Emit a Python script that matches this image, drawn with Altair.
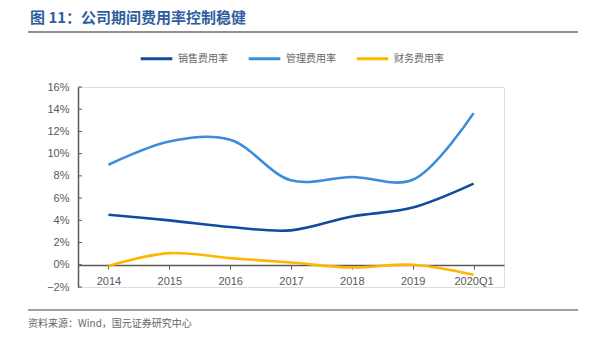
import altair as alt
import pandas as pd

categories = ["2014", "2015", "2016", "2017", "2018", "2019", "2020Q1"]
sales_rate = [4.5, 4.0, 3.4, 3.1, 4.35, 5.15, 7.3]
admin_rate = [9.0, 11.1, 11.25, 7.6, 7.9, 7.65, 13.65]
fin_rate = [-0.1, 1.05, 0.6, 0.2, -0.25, 0.0, -0.9]
series_names = ["销售费用率", "管理费用率", "财务费用率"]
series_colors = ["#0F4C9E", "#3A8DD8", "#FFB600"]
y_ticks = [-0.02, 0.0, 0.02, 0.04, 0.06, 0.08, 0.10, 0.12, 0.14, 0.16]

rows = []
for name, vals in zip(series_names, [sales_rate, admin_rate, fin_rate]):
    for c, v in zip(categories, vals):
        rows.append({"period": c, "series": name, "value": v / 100})
df = pd.DataFrame(rows)

W, H = 426, 200
font = "Liberation Sans"
cjk = "Noto Sans CJK SC"
gray = "#595959"

yscale = alt.Scale(domain=[-0.02, 0.16], nice=False, zero=False)
yaxis = alt.Axis(
    values=y_ticks, format=".0%", labelFont=font, labelFontSize=11, labelColor=gray,
    domainColor=gray, domainWidth=1.5, ticks=False, grid=False, labelPadding=9,
)

x_enc = alt.X(
    "period:N", sort=categories, title=None,
    scale=alt.Scale(paddingInner=0, paddingOuter=0),
    axis=alt.Axis(
        orient="bottom", offset=-22, labelAngle=0, labelFont=font, labelFontSize=11,
        labelColor=gray, domainColor=gray, domainWidth=1.5, tickColor=gray,
        tickSize=4, tickWidth=1, bandPosition=1, labelPadding=6,
    ),
)

lines = alt.Chart(df).mark_line(interpolate="catmull-rom", strokeWidth=2.6).encode(
    x=x_enc,
    y=alt.Y("value:Q", title=None, scale=yscale, axis=yaxis),
    color=alt.Color(
        "series:N", sort=series_names,
        scale=alt.Scale(domain=series_names, range=series_colors),
        legend=alt.Legend(
            title=None, orient="none", direction="horizontal", legendX=61, legendY=-46,
            symbolType="stroke", symbolSize=1000, symbolStrokeWidth=3,
            labelFont=cjk, labelFontSize=10, labelColor="#666666", columnPadding=14,
            labelOffset=4,
        ),
    ),
)

tick_df = pd.DataFrame({"value": y_ticks})
yticks = alt.Chart(tick_df).mark_rule(color=gray, strokeWidth=1).encode(
    y=alt.Y("value:Q", title=None, scale=yscale, axis=yaxis),
    x=alt.value(0), x2=alt.value(4),
)

title = alt.Chart(pd.DataFrame({"t": ["图 11：公司期间费用率控制稳健"]})).mark_text(
    font=cjk, fontSize=15, fontWeight="bold", color="#2F5E9E", align="left", baseline="middle"
).encode(text="t:N", x=alt.value(-48), y=alt.value(-69))

top_line = alt.Chart(pd.DataFrame({"a": [0]})).mark_rule(color="#6E6E6E", strokeWidth=1.5).encode(
    x=alt.value(-50), x2=alt.value(500), y=alt.value(-55)
)
bottom_line = alt.Chart(pd.DataFrame({"a": [0]})).mark_rule(color="#404040", strokeWidth=1).encode(
    x=alt.value(-50), x2=alt.value(500), y=alt.value(223)
)
source = alt.Chart(pd.DataFrame({"t": ["资料来源：Wind，国元证券研究中心"]})).mark_text(
    font=cjk, fontSize=10, color="#666666", align="left", baseline="middle"
).encode(text="t:N", x=alt.value(-50), y=alt.value(237))

chart = alt.layer(yticks, lines, title, top_line, bottom_line, source).resolve_scale(
    y="shared"
).properties(
    width=W, height=H,
    autosize=alt.AutoSizeParams(type="none"),
    padding={"left": 78, "top": 87, "right": 92, "bottom": 56},
).configure_view(stroke=None).configure(background="white")

chart.save("out.html", embed_options={"renderer": "svg", "actions": False})
